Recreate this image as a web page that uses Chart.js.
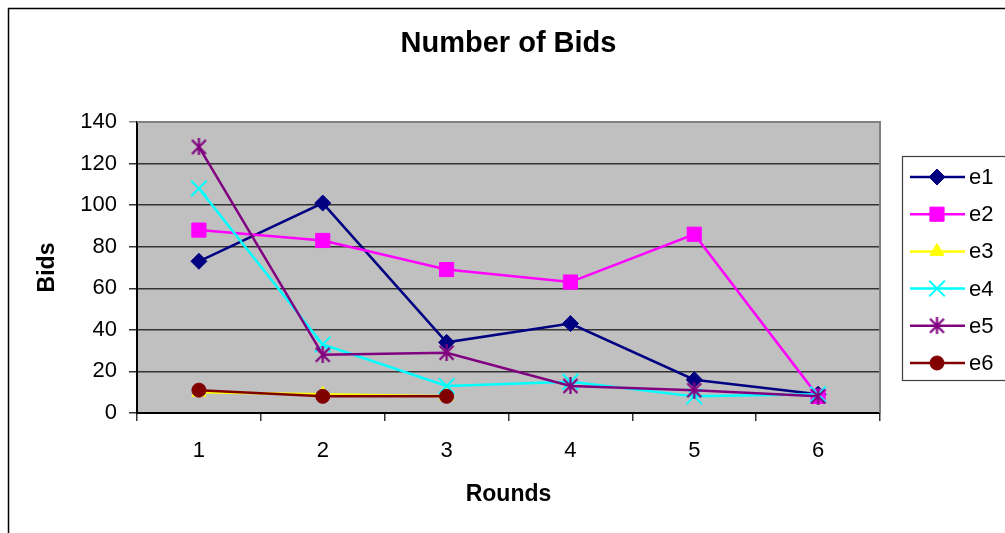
<!DOCTYPE html>
<html>
<head>
<meta charset="utf-8">
<title>Number of Bids</title>
<script src="https://cdn.jsdelivr.net/npm/chart.js@4.4.1/dist/chart.umd.min.js"></script>
<style>
  html, body { margin: 0; padding: 0; background: #fff; }
  canvas { display: block; }
</style>
</head>
<body>
<canvas id="c" width="1005" height="533"></canvas>
<script>
// Rounds on the x axis
const rounds = ['1', '2', '3', '4', '5', '6'];

// Bids per round for each series (e3 and e6 stop after round 3)
const e1 = [73, 101, 34, 43, 16, 9];
const e2 = [88, 83, 69, 63, 86, 8];
const e3 = [10, 9, 8];
const e4 = [108, 33, 13, 15, 8, 9];
const e5 = [128, 28, 29, 13, 11, 8];
const e6 = [11, 8, 8];

const seriesNames = ['e1', 'e2', 'e3', 'e4', 'e5', 'e6'];

// y axis range
const yMin = 0, yMax = 140, yStep = 20;

const FONT = "'Liberation Sans', Arial, Helvetica, sans-serif";
Chart.defaults.font.family = FONT;
Chart.defaults.color = '#000';

// asterisk marker: an X with a vertical bar through it
function asteriskMarker(color, size) {
  const cv = document.createElement('canvas');
  cv.width = size; cv.height = size;
  const g = cv.getContext('2d');
  g.strokeStyle = color;
  g.lineWidth = 2.2;
  const m = 1.5, s = size - 1.5;
  g.beginPath();
  g.moveTo(m, m); g.lineTo(s, s);
  g.moveTo(s, m); g.lineTo(m, s);
  g.moveTo(size / 2, 0); g.lineTo(size / 2, size);
  g.stroke();
  return cv;
}

function series(label, data, color, style, radius, order, extra) {
  return Object.assign({
    label: label,
    data: data,
    borderColor: color,
    backgroundColor: color,
    borderWidth: 2.5,
    pointStyle: style,
    pointRadius: radius,
    pointHoverRadius: radius,
    pointBackgroundColor: color,
    pointBorderColor: color,
    pointBorderWidth: 1,
    tension: 0,
    fill: false,
    order: order
  }, extra || {});
}

const datasets = [
  series(seriesNames[0], e1, '#000080', 'rectRot', 8, 6),
  series(seriesNames[1], e2, '#FF00FF', 'rect', 10, 5),
  series(seriesNames[2], e3, '#FFFF00', 'triangle', 8, 4),
  series(seriesNames[3], e4, '#00FFFF', 'crossRot', 11, 3, { pointBorderWidth: 2 }),
  series(seriesNames[4], e5, '#800080', asteriskMarker('#800080', 17), 8, 2),
  series(seriesNames[5], e6, '#800000', 'circle', 7, 1)
];

// grey plot background, outer frame and plot-area edges
const framePlugin = {
  id: 'frame',
  beforeDraw(chart) {
    const { ctx, chartArea: a } = chart;
    ctx.save();
    ctx.fillStyle = '#fff';
    ctx.fillRect(0, 0, chart.width, chart.height);
    ctx.fillStyle = '#C0C0C0';
    ctx.fillRect(a.left, a.top, a.right - a.left, a.bottom - a.top);
    // outer chart frame (runs off the right and bottom edges)
    ctx.strokeStyle = '#000';
    ctx.lineWidth = 1.5;
    ctx.beginPath();
    ctx.moveTo(8.5, chart.height + 5);
    ctx.lineTo(8.5, 8.5);
    ctx.lineTo(chart.width + 5, 8.5);
    ctx.stroke();
    ctx.restore();
  },
  afterDatasetsDraw(chart) {
    const { ctx, chartArea: a } = chart;
    ctx.save();
    ctx.strokeStyle = '#808080';
    ctx.lineWidth = 2;
    ctx.beginPath();
    ctx.moveTo(a.left, a.top);
    ctx.lineTo(a.right, a.top);
    ctx.lineTo(a.right, a.bottom);
    ctx.stroke();
    ctx.restore();
  }
};

// legend box with line + marker samples
const legendPlugin = {
  id: 'sideLegend',
  afterDraw(chart) {
    const { ctx } = chart;
    const boxL = 902, boxT = 156, boxB = 380;
    const rowY0 = 177, rowStep = 37.2;
    ctx.save();
    ctx.fillStyle = '#fff';
    ctx.fillRect(boxL, boxT, chart.width - boxL + 10, boxB - boxT);
    ctx.strokeStyle = '#404040';
    ctx.lineWidth = 1.2;
    ctx.strokeRect(boxL + 0.5, boxT + 0.5, chart.width - boxL + 10, boxB - boxT);
    chart.data.datasets.forEach((ds, i) => {
      const y = rowY0 + i * rowStep;
      ctx.strokeStyle = ds.borderColor;
      ctx.lineWidth = ds.borderWidth;
      ctx.beginPath();
      ctx.moveTo(910, y);
      ctx.lineTo(965, y);
      ctx.stroke();
      ctx.fillStyle = ds.pointBackgroundColor;
      ctx.strokeStyle = ds.pointBorderColor;
      ctx.lineWidth = ds.pointBorderWidth;
      Chart.helpers.drawPoint(ctx, {
        pointStyle: ds.pointStyle,
        radius: ds.pointRadius,
        rotation: 0,
        borderWidth: ds.pointBorderWidth
      }, 937, y);
      ctx.fillStyle = '#000';
      ctx.font = '22px ' + FONT;
      ctx.textAlign = 'left';
      ctx.textBaseline = 'middle';
      ctx.fillText(ds.label, 969, y + 1);
    });
    ctx.restore();
  }
};

new Chart(document.getElementById('c'), {
  type: 'line',
  data: { labels: rounds, datasets: datasets },
  options: {
    responsive: false,
    animation: false,
    devicePixelRatio: 1,
    layout: { padding: { left: 0, right: 125, top: 0, bottom: 0 } },
    plugins: {
      legend: { display: false },
      tooltip: { enabled: false },
      title: {
        display: true,
        fullSize: false,
        text: 'Number of Bids',
        color: '#000',
        font: { size: 29, weight: 'bold', family: FONT, lineHeight: 1.2 },
        padding: { top: 27, bottom: 60.2 }
      }
    },
    scales: {
      x: {
        type: 'category',
        offset: true,
        afterFit(scale) { scale.height = 120; },
        grid: {
          offset: true,
          drawOnChartArea: false,
          drawTicks: true,
          tickLength: 8,
          color: '#333',
          lineWidth: 1.5
        },
        border: { display: true, color: '#000', width: 2 },
        ticks: { font: { size: 22, family: FONT }, color: '#000', padding: 17, maxRotation: 0 },
        title: {
          display: true,
          text: 'Rounds',
          color: '#000',
          font: { size: 23, weight: 'bold', family: FONT, lineHeight: 1.2 },
          padding: { top: 0, bottom: 25 }
        }
      },
      y: {
        min: yMin,
        max: yMax,
        afterFit(scale) { scale.width = 137; },
        ticks: { stepSize: yStep, font: { size: 22, family: FONT }, color: '#000', padding: 12 },
        grid: {
          drawTicks: true,
          tickLength: 8,
          color: (c) => (c.tick && c.tick.value === yMax) ? '#808080' : '#333',
          lineWidth: 1.5
        },
        border: { display: true, color: '#000', width: 2 },
        title: {
          display: true,
          text: 'Bids',
          color: '#000',
          font: { size: 23, weight: 'bold', family: FONT, lineHeight: 1.2 },
          padding: { top: 34, bottom: 0 }
        }
      }
    }
  },
  plugins: [framePlugin, legendPlugin]
});
</script>
</body>
</html>
